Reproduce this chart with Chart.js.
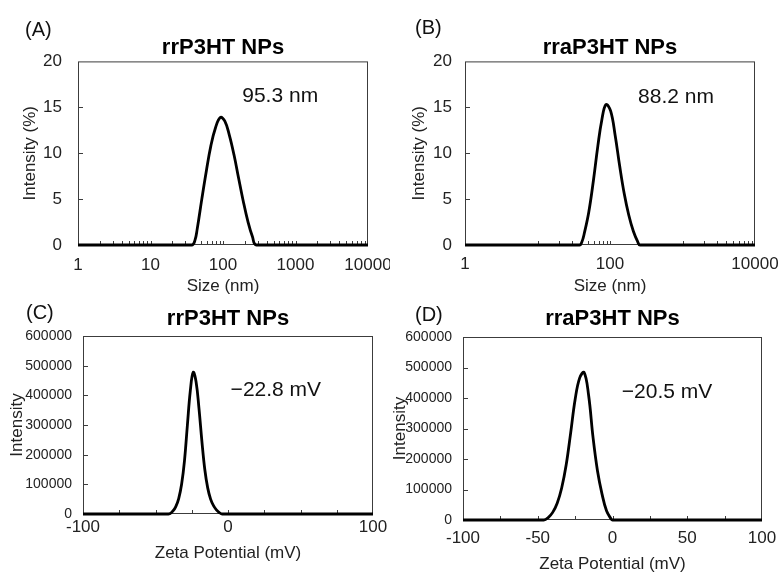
<!DOCTYPE html>
<html><head><meta charset="utf-8">
<script src="https://cdn.jsdelivr.net/npm/chart.js@4/dist/chart.umd.min.js"></script>
<style>
html,body{margin:0;padding:0;background:#fff;width:781px;height:575px;overflow:hidden;font-family:"Liberation Sans",Arial,sans-serif;}
.panel{position:absolute;}
.panel canvas{display:block;}
.letter{position:absolute;font-size:20px;line-height:20px;color:#111;white-space:nowrap;}
</style></head><body>
<div class="panel" style="left:0;top:0;width:390px;height:300px"><canvas id="cA" width="390" height="300"></canvas></div>
<div class="panel" style="left:390px;top:0;width:391px;height:300px"><canvas id="cB" width="391" height="300"></canvas></div>
<div class="panel" style="left:0;top:290px;width:390px;height:285px"><canvas id="cC" width="390" height="285"></canvas></div>
<div class="panel" style="left:390px;top:290px;width:391px;height:285px"><canvas id="cD" width="391" height="285"></canvas></div>
<div class="letter" style="left:25px;top:19px">(A)</div>
<div class="letter" style="left:415px;top:17px">(B)</div>
<div class="letter" style="left:26px;top:302px">(C)</div>
<div class="letter" style="left:415px;top:304px">(D)</div>
<script>
// ---- data ----
const sizeA = [1, 37, 41, 44, 51, 59, 68, 79, 92, 106, 122, 142, 164, 190, 220, 255, 290, 10000];
const intensityA = [0, 0, 0.5, 1.7, 5.0, 8.1, 10.8, 12.8, 13.9, 13.5, 12.0, 9.8, 7.3, 4.8, 2.6, 0.9, 0, 0];
const sizeB = [1, 38, 41, 44, 51, 59, 68, 77, 88, 102, 118, 136, 157, 181, 210, 240, 260, 10000];
const intensityB = [0, 0, 0.35, 1.2, 3.6, 7.0, 10.8, 13.6, 15.3, 14.6, 11.9, 8.6, 5.6, 3.3, 1.5, 0.4, 0, 0];
const zetaC = [-100, -41, -38, -36, -34, -32, -30, -28, -26, -24, -22, -20, -18, -16, -14, -12, -10, -8, -6, -4, 100];
const intensityC = [0, 0, 10000, 25000, 52000, 100000, 180000, 300000, 415000, 478000, 445000, 355000, 245000, 150000, 88000, 50000, 28000, 14000, 5000, 0, 0];
const zetaD = [-100, -46, -43, -40, -37, -34, -31, -28, -25, -22, -19, -16, -13, -10, -7, -4, -1, 0, 100];
const intensityD = [0, 0, 8000, 25000, 55000, 105000, 180000, 285000, 395000, 465000, 484000, 410000, 270000, 160000, 85000, 30000, 4000, 0, 0];

const titleA = 'rrP3HT NPs', titleB = 'rraP3HT NPs', titleC = 'rrP3HT NPs', titleD = 'rraP3HT NPs';
const noteA = '95.3 nm', noteB = '88.2 nm', noteC = '\u221222.8 mV', noteD = '\u221220.5 mV';
const xTitleSize = 'Size (nm)', xTitleZeta = 'Zeta Potential (mV)';
const yTitleSize = 'Intensity (%)', yTitleZeta = 'Intensity';

const xLabelsA = [1, 10, 100, 1000, 10000];
const xLabelsB = [1, 100, 10000];
const xLabelsC = [-100, 0, 100];
const xLabelsD = [-100, -50, 0, 50, 100];
const yLabelsSize = [0, 5, 10, 15, 20];
const yLabelsZeta = [0, 100000, 200000, 300000, 400000, 500000, 600000];

const xMinorA = [2,3,4,5,6,7,8,9,10,20,30,40,50,60,70,80,90,100,200,300,400,500,600,700,800,900,1000,2000,3000,4000,5000,6000,7000,8000,9000];
const xMinorB = [10,20,30,40,50,60,70,80,90,100,1000,2000,3000,4000,5000,6000,7000,8000,9000];
const xMinorZeta = [-75, -50, -25, 0, 25, 50, 75];
const yMinorSize = [5, 10, 15];
const yMinorZeta = [100000, 200000, 300000, 400000, 500000];

// ---- drawing ----
const FONT = '"Liberation Sans", Arial, sans-serif';
const TXT = '#222';

const framePlugin = {
  id: 'frame',
  beforeDatasetsDraw(chart, args, opts) {
    const {ctx, chartArea: a} = chart;
    const x = chart.scales.x, y = chart.scales.y;
    ctx.save();
    ctx.strokeStyle = '#3c3c3c';
    ctx.lineWidth = 1;
    ctx.strokeRect(a.left + 0.5, a.top + 0.5, a.right - a.left - 1, a.bottom - a.top - 1);
    ctx.beginPath();
    for (const v of opts.xTicks) {
      const px = Math.round(x.getPixelForValue(v)) + 0.5;
      ctx.moveTo(px, a.bottom); ctx.lineTo(px, a.bottom - 4);
    }
    for (const v of opts.yTicks) {
      const py = Math.round(y.getPixelForValue(v)) + 0.5;
      ctx.moveTo(a.left, py); ctx.lineTo(a.left + 5, py);
    }
    ctx.stroke();
    ctx.restore();
  },
  afterDatasetsDraw(chart, args, opts) {
    const {ctx} = chart;
    const x = chart.scales.x, y = chart.scales.y;
    ctx.save();
    ctx.fillStyle = '#111';
    ctx.font = '21px ' + FONT;
    ctx.textAlign = 'center';
    ctx.textBaseline = 'middle';
    for (const n of opts.notes) {
      ctx.fillText(n.text, x.getPixelForValue(n.x), y.getPixelForValue(n.y));
    }
    ctx.restore();
  }
};

function build(id, o) {
  return new Chart(document.getElementById(id), {
    type: 'line',
    data: { datasets: [{
      data: o.xs.map((v, i) => ({x: v, y: o.ys[i]})),
      borderColor: '#000', borderWidth: 2.8, pointRadius: 0,
      tension: 0.4, fill: false, clip: false
    }]},
    options: {
      responsive: false, animation: false, events: [],
      layout: { padding: o.pad },
      plugins: {
        legend: {display: false}, tooltip: {enabled: false},
        title: { display: true, text: o.title, fullSize: false, color: '#000',
          font: {family: FONT, size: 22, weight: 'bold'}, padding: {top: 0, bottom: o.titlePad} },
        frame: { xTicks: o.xMinor, yTicks: o.yMinor, notes: o.notes }
      },
      scales: {
        x: {
          type: o.xType, min: o.xMin, max: o.xMax,
          grid: {display: false, drawTicks: false}, border: {display: false},
          afterBuildTicks: s => { s.ticks = o.xLabels.map(v => ({value: v})); },
          afterFit: s => { s.height = o.xH; s.paddingLeft = 0; s.paddingRight = 0; },
          ticks: { color: TXT, font: {family: FONT, size: 17}, padding: o.xTickPad,
                   maxRotation: 0, minRotation: 0, autoSkip: false, callback: v => String(v) },
          title: { display: true, text: o.xTitle, color: TXT, font: {family: FONT, size: 17},
                   padding: {top: 0, bottom: o.xTitlePad} }
        },
        y: {
          type: 'linear', min: o.yMin, max: o.yMax,
          grid: {display: false, drawTicks: false}, border: {display: false},
          afterBuildTicks: s => { s.ticks = o.yLabels.map(v => ({value: v})); },
          afterFit: s => { s.width = o.yW; s.paddingTop = 0; s.paddingBottom = 0; },
          ticks: { color: TXT, font: {family: FONT, size: o.yFont}, padding: o.yTickPad,
                   autoSkip: false, callback: v => String(v) },
          title: { display: true, text: o.yTitle, color: TXT, font: {family: FONT, size: 17},
                   padding: {top: o.yTitlePad, bottom: 0} }
        }
      }
    },
    plugins: [framePlugin]
  });
}

build('cA', {
  xs: sizeA, ys: intensityA, title: titleA, xType: 'logarithmic', xMin: 1, xMax: 10000,
  yMin: 0, yMax: 20, xLabels: xLabelsA, yLabels: yLabelsSize, xMinor: xMinorA, yMinor: yMinorSize,
  xTitle: xTitleSize, yTitle: yTitleSize, notes: [{text: noteA, x: 615, y: 16.2}],
  pad: {left: 0, right: 22, top: 35, bottom: 0}, titlePad: 0, xH: 55, yW: 78,
  xTickPad: 10, xTitlePad: 3, yTickPad: 16, yTitlePad: 20, yFont: 17
});
build('cB', {
  xs: sizeB, ys: intensityB, title: titleB, xType: 'logarithmic', xMin: 1, xMax: 10000,
  yMin: 0, yMax: 20, xLabels: xLabelsB, yLabels: yLabelsSize, xMinor: xMinorB, yMinor: yMinorSize,
  xTitle: xTitleSize, yTitle: yTitleSize, notes: [{text: noteB, x: 813, y: 16.1}],
  pad: {left: 0, right: 26, top: 35, bottom: 0}, titlePad: 0, xH: 55, yW: 75,
  xTickPad: 9, xTitlePad: 3, yTickPad: 13, yTitlePad: 19, yFont: 17
});
build('cC', {
  xs: zetaC, ys: intensityC, title: titleC, xType: 'linear', xMin: -100, xMax: 100,
  yMin: 0, yMax: 600000, xLabels: xLabelsC, yLabels: yLabelsZeta, xMinor: xMinorZeta, yMinor: yMinorZeta,
  xTitle: xTitleZeta, yTitle: yTitleZeta, notes: [{text: noteC, x: 33, y: 418000}],
  pad: {left: 0, right: 17, top: 16, bottom: 0}, titlePad: 3.6, xH: 61, yW: 83,
  xTickPad: 3, xTitlePad: 11, yTickPad: 11, yTitlePad: 7, yFont: 14
});
build('cD', {
  xs: zetaD, ys: intensityD, title: titleD, xType: 'linear', xMin: -100, xMax: 100,
  yMin: 0, yMax: 600000, xLabels: xLabelsD, yLabels: yLabelsZeta, xMinor: xMinorZeta, yMinor: yMinorZeta,
  xTitle: xTitleZeta, yTitle: yTitleZeta, notes: [{text: noteD, x: 36.5, y: 418000}],
  pad: {left: 0, right: 19, top: 16, bottom: 0}, titlePad: 4.6, xH: 55, yW: 73,
  xTickPad: 8, xTitlePad: 0, yTickPad: 11, yTitlePad: 0, yFont: 14
});
</script>
</body></html>
